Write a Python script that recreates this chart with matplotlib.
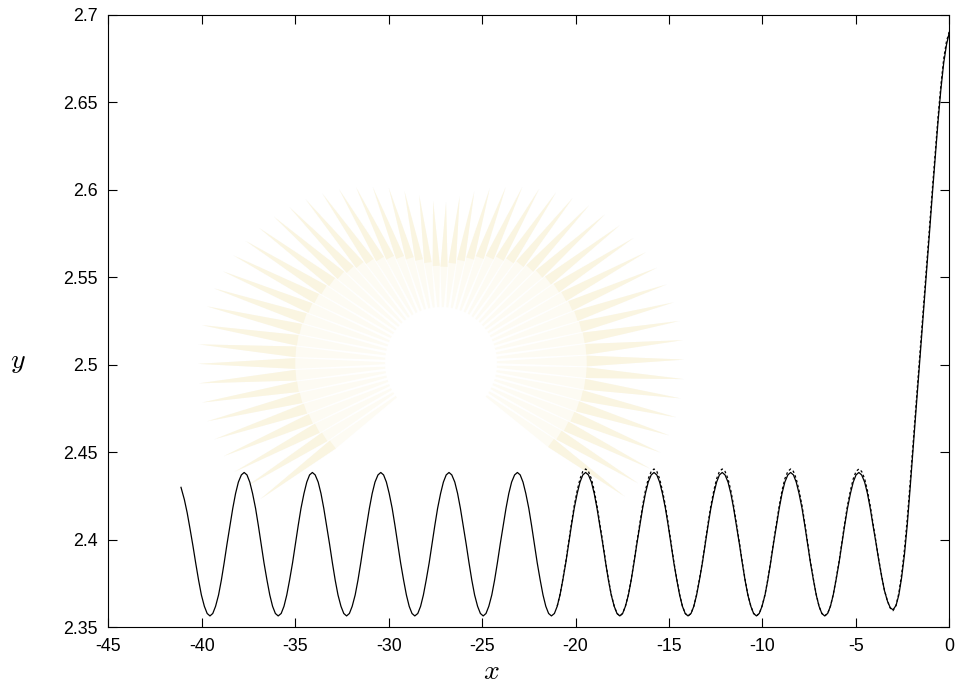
import numpy as np
import matplotlib
matplotlib.use("Agg")
from matplotlib import pyplot as plt
from matplotlib.patches import Polygon, Circle

plt.rcParams['font.family'] = ['Liberation Sans', 'DejaVu Sans']
plt.rcParams['mathtext.fontset'] = 'cm'
plt.rcParams['axes.unicode_minus'] = False

# full solution y(x); one row per period, trough to trough
x_full = [
    -41.11, -40.93, -40.78, -40.63, -40.47, -40.32, -40.17, -40.02, -39.86, -39.71,
    -39.56, -39.41, -39.26, -39.10, -38.95, -38.80, -38.65, -38.49, -38.34, -38.19, -38.04, -37.88,
    -37.73, -37.58, -37.43, -37.28, -37.12, -36.97, -36.82, -36.67, -36.51, -36.36, -36.21, -36.06,
    -35.91, -35.75, -35.60, -35.45, -35.30, -35.14, -34.99, -34.84, -34.69, -34.53, -34.38, -34.23,
    -34.08, -33.93, -33.77, -33.62, -33.47, -33.32, -33.16, -33.01, -32.86, -32.71, -32.55, -32.40,
    -32.25, -32.10, -31.95, -31.79, -31.64, -31.49, -31.34, -31.18, -31.03, -30.88, -30.73, -30.57,
    -30.42, -30.27, -30.12, -29.97, -29.81, -29.66, -29.51, -29.36, -29.20, -29.05, -28.90, -28.75,
    -28.60, -28.44, -28.29, -28.14, -27.99, -27.83, -27.68, -27.53, -27.38, -27.22, -27.07, -26.92,
    -26.77, -26.62, -26.46, -26.31, -26.16, -26.01, -25.85, -25.70, -25.55, -25.40, -25.24, -25.09,
    -24.94, -24.79, -24.64, -24.48, -24.33, -24.18, -24.03, -23.87, -23.72, -23.57, -23.42, -23.26,
    -23.11, -22.96, -22.81, -22.66, -22.50, -22.35, -22.20, -22.05, -21.89, -21.74, -21.59, -21.44,
    -21.29, -21.13, -20.98, -20.83, -20.68, -20.52, -20.37, -20.22, -20.07, -19.91, -19.76, -19.61,
    -19.46, -19.31, -19.15, -19.00, -18.85, -18.70, -18.54, -18.39, -18.24, -18.09, -17.93, -17.78,
    -17.63, -17.48, -17.33, -17.17, -17.02, -16.87, -16.72, -16.56, -16.41, -16.26, -16.11, -15.95,
    -15.80, -15.65, -15.50, -15.35, -15.19, -15.04, -14.89, -14.74, -14.58, -14.43, -14.28, -14.13,
    -13.98, -13.82, -13.67, -13.52, -13.37, -13.21, -13.06, -12.91, -12.76, -12.60, -12.45, -12.30,
    -12.15, -12.00, -11.84, -11.69, -11.54, -11.39, -11.23, -11.08, -10.93, -10.78, -10.62, -10.47,
    -10.32, -10.17, -10.02, -9.86, -9.71, -9.56, -9.41, -9.25, -9.10, -8.95, -8.80, -8.64,
    -8.49, -8.34, -8.19, -8.04, -7.88, -7.73, -7.58, -7.43, -7.27, -7.12, -6.97, -6.82,
    -6.67, -6.51, -6.36, -6.21, -6.06, -5.90, -5.75, -5.60, -5.45, -5.29, -5.14, -4.99,
    -4.84, -4.69, -4.53, -4.38, -4.23, -4.08, -3.92, -3.77, -3.62, -3.47, -3.31, -3.16,
    -3.01,
    -2.85, -2.70, -2.55, -2.40, -2.25, -2.10, -1.95, -1.80, -1.65, -1.50,
    -1.35, -1.20, -1.05, -0.90, -0.75, -0.60, -0.45, -0.30, -0.15, 0.00,
]
y_full = [
    2.4300, 2.4230, 2.4155, 2.4065, 2.3965, 2.3865, 2.3770, 2.3685, 2.3620, 2.3579,
    2.3565, 2.3579, 2.3620, 2.3685, 2.3770, 2.3869, 2.3975, 2.4081, 2.4180, 2.4265, 2.4330, 2.4371,
    2.4385, 2.4371, 2.4330, 2.4265, 2.4180, 2.4081, 2.3975, 2.3869, 2.3770, 2.3685, 2.3620, 2.3579,
    2.3565, 2.3579, 2.3620, 2.3685, 2.3770, 2.3869, 2.3975, 2.4081, 2.4180, 2.4265, 2.4330, 2.4371,
    2.4385, 2.4371, 2.4330, 2.4265, 2.4180, 2.4081, 2.3975, 2.3869, 2.3770, 2.3685, 2.3620, 2.3579,
    2.3565, 2.3579, 2.3620, 2.3685, 2.3770, 2.3869, 2.3975, 2.4081, 2.4180, 2.4265, 2.4330, 2.4371,
    2.4385, 2.4371, 2.4330, 2.4265, 2.4180, 2.4081, 2.3975, 2.3869, 2.3770, 2.3685, 2.3620, 2.3579,
    2.3565, 2.3579, 2.3620, 2.3685, 2.3770, 2.3869, 2.3975, 2.4081, 2.4180, 2.4265, 2.4330, 2.4371,
    2.4385, 2.4371, 2.4330, 2.4265, 2.4180, 2.4081, 2.3975, 2.3869, 2.3770, 2.3685, 2.3620, 2.3579,
    2.3565, 2.3579, 2.3620, 2.3685, 2.3770, 2.3869, 2.3975, 2.4081, 2.4180, 2.4265, 2.4330, 2.4371,
    2.4385, 2.4371, 2.4330, 2.4265, 2.4180, 2.4081, 2.3975, 2.3869, 2.3770, 2.3685, 2.3620, 2.3579,
    2.3565, 2.3579, 2.3620, 2.3685, 2.3770, 2.3869, 2.3975, 2.4081, 2.4180, 2.4265, 2.4330, 2.4371,
    2.4385, 2.4371, 2.4330, 2.4265, 2.4180, 2.4081, 2.3975, 2.3869, 2.3770, 2.3685, 2.3620, 2.3579,
    2.3565, 2.3579, 2.3620, 2.3685, 2.3770, 2.3869, 2.3975, 2.4081, 2.4180, 2.4265, 2.4330, 2.4371,
    2.4385, 2.4371, 2.4330, 2.4265, 2.4180, 2.4081, 2.3975, 2.3869, 2.3770, 2.3685, 2.3620, 2.3579,
    2.3565, 2.3579, 2.3620, 2.3685, 2.3770, 2.3869, 2.3975, 2.4081, 2.4180, 2.4265, 2.4330, 2.4371,
    2.4385, 2.4371, 2.4330, 2.4265, 2.4180, 2.4081, 2.3975, 2.3869, 2.3770, 2.3685, 2.3620, 2.3579,
    2.3565, 2.3579, 2.3620, 2.3685, 2.3770, 2.3869, 2.3975, 2.4081, 2.4180, 2.4265, 2.4330, 2.4371,
    2.4385, 2.4371, 2.4330, 2.4265, 2.4180, 2.4081, 2.3975, 2.3869, 2.3770, 2.3685, 2.3620, 2.3579,
    2.3565, 2.3579, 2.3620, 2.3685, 2.3770, 2.3869, 2.3975, 2.4081, 2.4180, 2.4265, 2.4330, 2.4371,
    2.4385, 2.4371, 2.4330, 2.4265, 2.4180, 2.4081, 2.3980, 2.3880, 2.3790, 2.3710, 2.3650, 2.3612,
    2.3600,
    2.3625, 2.3685, 2.3785, 2.3915, 2.4085, 2.4290, 2.4505, 2.4715, 2.4925, 2.5135,
    2.5345, 2.5555, 2.5770, 2.5985, 2.6190, 2.6395, 2.6575, 2.6725, 2.6830, 2.6900,
]

# second solution, drawn from x = -20.98 on (same sample points)
y_dash = [
    2.3621, 2.3688, 2.3775, 2.3876, 2.3985, 2.4094, 2.4195, 2.4282, 2.4349, 2.4391,
    2.4405, 2.4391, 2.4349, 2.4282, 2.4195, 2.4094, 2.3985, 2.3876, 2.3775, 2.3688, 2.3621, 2.3579,
    2.3565, 2.3579, 2.3621, 2.3688, 2.3775, 2.3876, 2.3985, 2.4094, 2.4195, 2.4282, 2.4349, 2.4391,
    2.4405, 2.4391, 2.4349, 2.4282, 2.4195, 2.4094, 2.3985, 2.3876, 2.3775, 2.3688, 2.3621, 2.3579,
    2.3565, 2.3579, 2.3621, 2.3688, 2.3775, 2.3876, 2.3985, 2.4094, 2.4195, 2.4282, 2.4349, 2.4391,
    2.4405, 2.4391, 2.4349, 2.4282, 2.4195, 2.4094, 2.3985, 2.3876, 2.3775, 2.3688, 2.3621, 2.3579,
    2.3565, 2.3579, 2.3621, 2.3688, 2.3775, 2.3876, 2.3985, 2.4094, 2.4195, 2.4282, 2.4349, 2.4391,
    2.4405, 2.4391, 2.4349, 2.4282, 2.4195, 2.4094, 2.3985, 2.3876, 2.3775, 2.3688, 2.3621, 2.3579,
    2.3565, 2.3579, 2.3621, 2.3688, 2.3775, 2.3876, 2.3985, 2.4094, 2.4195, 2.4282, 2.4349, 2.4391,
    2.4405, 2.4391, 2.4349, 2.4282, 2.4195, 2.4094, 2.3990, 2.3885, 2.3795, 2.3712, 2.3650, 2.3610,
    2.3595,
    2.3625, 2.3695, 2.3805, 2.3945, 2.4120, 2.4320, 2.4535, 2.4745, 2.4955, 2.5165,
    2.5375, 2.5585, 2.5800, 2.6015, 2.6220, 2.6420, 2.6600, 2.6750, 2.6850, 2.6905,
]
x_dash = x_full[x_full.index(-20.98):]

x_ticks = [-45, -40, -35, -30, -25, -20, -15, -10, -5, 0]
y_ticks = [2.35, 2.4, 2.45, 2.5, 2.55, 2.6, 2.65, 2.7]
y_tick_labels = ['2.35', '2.4', '2.45', '2.5', '2.55', '2.6', '2.65', '2.7']

W, H = 959, 686
fig = plt.figure(figsize=(W / 100, H / 100), dpi=100)

# faint seal behind the plot, in pixel coordinates
bg = fig.add_axes([0, 0, 1, 1], zorder=-1)
bg.set_xlim(0, W)
bg.set_ylim(H, 0)
bg.axis('off')
cx, cy = 441, 363
for a in np.arange(-36, 217, 4.6):
    t = np.radians(a)
    # rays reach further sideways than upward
    r1 = 158 + 85 * abs(np.cos(t))
    ray = []
    for r, da in [(56, 1.0), (r1 * 0.6, 2.1), (r1, 0.0), (r1 * 0.6, -2.1), (56, -1.0)]:
        tt = np.radians(a + da)
        ray.append((cx + r * np.cos(tt), cy - r * np.sin(tt)))
    bg.add_patch(Polygon(ray, closed=True, fc='#fdfbf3', ec='none'))
    tip = []
    for r, da in [(r1 * 0.6, 2.1), (r1, 0.0), (r1 * 0.6, -2.1)]:
        tt = np.radians(a + da)
        tip.append((cx + r * np.cos(tt), cy - r * np.sin(tt)))
    bg.add_patch(Polygon(tip, closed=True, fc='#faf5e1', ec='none'))
bg.add_patch(Circle((cx, cy), 54, fc='white', ec='none'))

ax = fig.add_axes([108.3 / W, 1 - 627.3 / H, 841 / W, 612.3 / H])
ax.set_facecolor('none')
ax.plot(x_full, y_full, color='black', lw=0.9)
ax.plot(x_dash, y_dash, color='black', lw=0.9, linestyle=(0, (2, 2)))

ax.set_xlim(-45, 0)
ax.set_ylim(2.35, 2.7)
ax.set_xticks(x_ticks)
ax.set_xticklabels([str(v) for v in x_ticks])
ax.set_yticks(y_ticks)
ax.set_yticklabels(y_tick_labels)
ax.tick_params(direction='in', length=6.5, width=0.8, top=True, right=True,
               labelsize=12.8, pad=7.5)
for s in ax.spines.values():
    s.set_linewidth(0.8)

fig.text(491.7 / W, 1 - 672 / H, r'$x$', fontsize=20, ha='center', va='center')
fig.text(17.5 / W, 1 - 362 / H, r'$y$', fontsize=20, ha='center', va='center')

fig.savefig('out.png', dpi=100)
